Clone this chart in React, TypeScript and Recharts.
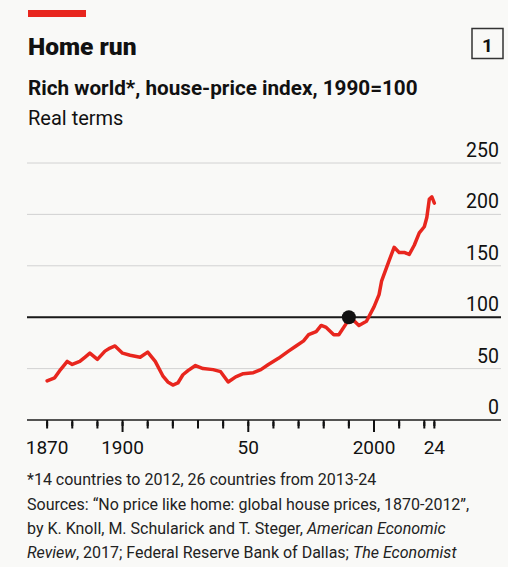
import { LineChart, Line, XAxis, YAxis, CartesianGrid, ReferenceLine, ReferenceDot } from 'recharts';

const years = [
  1870, 1872, 1873, 1875, 1876, 1878, 1880, 1883, 1885, 1887, 1890, 1893, 1895, 1897,
  1900, 1903, 1907, 1910, 1913, 1916, 1918, 1920, 1922, 1924, 1926, 1929, 1932, 1936,
  1939, 1942, 1945, 1948, 1952, 1955, 1958, 1962, 1966, 1969, 1972, 1974, 1977, 1979,
  1981, 1984, 1986, 1989, 1990, 1991, 1994, 1997, 2000, 2002, 2003, 2006, 2008, 2010,
  2012, 2014, 2016, 2018, 2020, 2021, 2022, 2023, 2024,
];
const priceIndex = [
  38, 40, 41, 48, 51, 57, 54, 57, 61, 65, 59, 67, 70, 72,
  65, 63, 61, 66, 57, 43, 37, 34, 36, 44, 48, 53, 50, 49,
  47, 37, 42, 45, 46, 49, 54, 60, 67, 72, 77, 83, 86, 92,
  90, 83, 83, 94, 100, 99, 92, 96, 110, 122, 135, 155, 168, 163,
  163, 161, 170, 182, 188, 197, 215, 217, 211,
];

const xTicks = [1870, 1880, 1890, 1900, 1910, 1920, 1930, 1940, 1950, 1960, 1970, 1980, 1990, 2000, 2010, 2020, 2024];
const majorTicks = [1900, 1950, 2000];
const xTickLabels: Record<number, string> = { 1870: '1870', 1900: '1900', 1950: '50', 2000: '2000', 2024: '24' };
const yTicks = [0, 50, 100, 150, 200, 250];

const footnotes = [
  '*14 countries to 2012, 26 countries from 2013-24',
];

const data = years.map((year, i) => ({ year, value: priceIndex[i] }));

const FONT = 'Roboto, "Noto Sans", sans-serif';
const RED = '#e8261e';

// y arrives at the end of the 6px tick line; majors get a longer mark
const XTick = ({ x, y, payload }: any) => {
  const major = majorTicks.includes(payload.value);
  const label = xTickLabels[payload.value];
  return (
    <g>
      <line x1={x} x2={x} y1={y - 6} y2={y + (major ? 4 : 0.5)} stroke="#111" strokeWidth={2} />
      {label && (
        <text x={x} y={y + 26} textAnchor="middle" fontSize={19} fontFamily={FONT} fill="#111">
          {label}
        </text>
      )}
    </g>
  );
};

const YTick = ({ x, y, payload }: any) => (
  <text x={x - 2} y={y - 6} textAnchor="end" fontSize={19.5} fontFamily={FONT} fill="#111">
    {payload.value}
  </text>
);

export default function App() {
  return (
    <div
      style={{
        position: 'absolute',
        left: 0,
        top: 0,
        width: 508,
        height: 567,
        background: '#f9f9f7',
        fontFamily: FONT,
      }}
    >
      <svg
        width={508}
        height={567}
        style={{ position: 'absolute', left: 0, top: 0, pointerEvents: 'none' }}
        fontFamily={FONT}
      >
        <rect x={28} y={10} width={58} height={7} fill={RED} />
        <text x={28} y={54.5} fontSize={24.5} fontWeight={900} fill="#111">
          Home run
        </text>
        <rect x={472} y={28.5} width={31} height={30} fill="none" stroke="#333" strokeWidth={1.5} />
        <text x={487.5} y={51.5} fontSize={19} fontWeight={700} textAnchor="middle" fill="#111">
          1
        </text>
        <text x={28} y={95} fontSize={20.7} fontWeight={700} fill="#111">
          Rich world*, house-price index, 1990=100
        </text>
        <text x={28} y={124.5} fontSize={20} fill="#111">
          Real terms
        </text>

        <text x={27} y={485} fontSize={16} fill="#222">
          {footnotes[0]}
        </text>
        <text x={27} y={510} fontSize={16} fill="#222">
          Sources: “No price like home: global house prices, 1870-2012”,
        </text>
        <text x={27} y={534} fontSize={16} fill="#222">
          by K. Knoll, M. Schularick and T. Steger, <tspan fontStyle="italic">American Economic</tspan>
        </text>
        <text x={27} y={558} fontSize={16} fill="#222">
          <tspan fontStyle="italic">Review</tspan>, 2017; Federal Reserve Bank of Dallas; <tspan fontStyle="italic">The Economist</tspan>
        </text>
      </svg>

      <div style={{ position: 'absolute', left: 0, top: 0 }}>
        <LineChart
          width={508}
          height={567}
          data={data}
          margin={{ top: 163, right: 7, bottom: 117, left: 27 }}
        >
          <CartesianGrid vertical={false} stroke="#d2d2d2" strokeWidth={1} />
          <XAxis
            dataKey="year"
            type="number"
            domain={[1862, 2050.5]}
            ticks={xTicks}
            interval={0}
            height={30}
            tickSize={6}
            tickLine={{ stroke: '#111', strokeWidth: 2 }}
            axisLine={{ stroke: '#222', strokeWidth: 1.5 }}
            tick={<XTick />}
          />
          <YAxis
            orientation="right"
            mirror
            width={1}
            domain={[0, 250]}
            ticks={yTicks}
            interval={0}
            tickSize={0}
            tickMargin={0}
            tickLine={false}
            axisLine={false}
            tick={<YTick />}
          />
          <ReferenceLine y={100} stroke="#1a1a1a" strokeWidth={2} />
          <Line
            dataKey="value"
            type="linear"
            stroke={RED}
            strokeWidth={3.5}
            strokeLinejoin="round"
            strokeLinecap="round"
            dot={false}
            isAnimationActive={false}
          />
          <ReferenceDot x={1990} y={100} r={7} fill="#111" stroke="none" />
        </LineChart>
      </div>
    </div>
  );
}
